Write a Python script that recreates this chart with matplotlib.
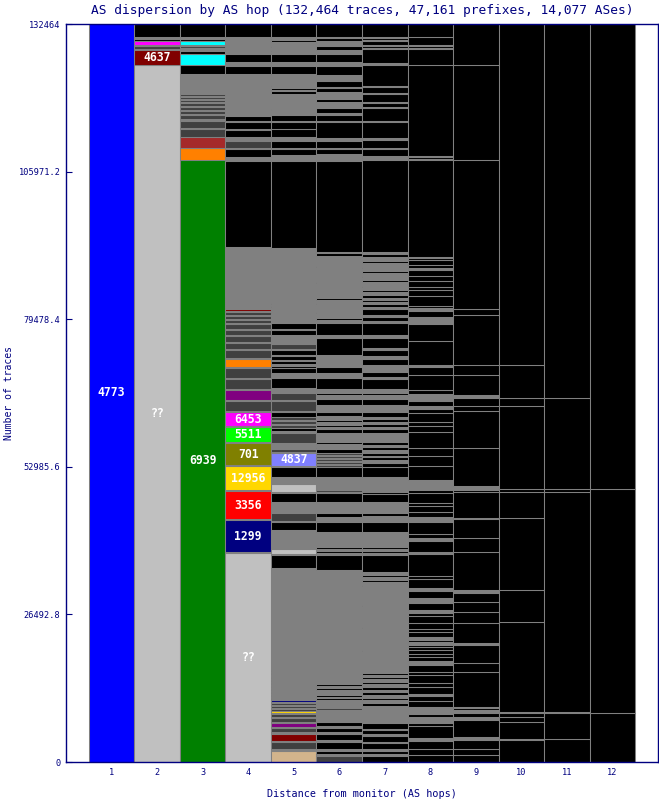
import matplotlib
matplotlib.use("Agg")
import matplotlib.pyplot as plt

# colour codes used in the hop columns
palette = {
    'K': '#000000', 'G': '#808080', 'D': '#404040', 'L': '#c0c0c0',
    'BL': '#0000ff', 'GR': '#008000', 'DR': '#800000', 'MA': '#ff00ff',
    'CY': '#00ffff', 'BR': '#a52a2a', 'OR': '#ff8000', 'PU': '#800080',
    'LI': '#00ff00', 'OL': '#808000', 'GO': '#ffd700', 'RE': '#ff0000',
    'NA': '#000080', 'PE': '#8080ff', 'TA': '#d2b48c',
}

total_traces = 132464
y_ticks = [0, 26492.8, 52985.6, 79478.4, 105971.2, 132464]
y_tick_labels = ['0', '26492.8', '52985.6', '79478.4', '105971.2', '132464']
hops = list(range(1, 13))

# each hop: (traces, colour, optional label), listed from the top down
hop1 = [(132464, 'BL', '4773')]

hop2 = [(2334, 'K'), (359, 'G'), (359, 'K'), (628, 'MA'), (269, 'G'), (538, 'D'),
        (179, 'G'), (2782, 'DR', '4637'), (125016, 'L', '??')]

hop3 = [(2334, 'K'), (359, 'G'), (359, 'K'), (628, 'CY'), (269, 'G'), (359, 'D'),
        (538, 'G'), (449, 'K'), (2064, 'CY'), (1615, 'K'), (3590, 'G'),
        (359, 'D'), (179, 'G'), (359, 'D'), (179, 'G'), (359, 'D'), (179, 'G'),
        (538, 'D'), (179, 'G'), (538, 'D'), (179, 'G'), (538, 'D'), (179, 'G'),
        (718, 'D'), (359, 'G'), (1256, 'D'), (179, 'G'), (1436, 'D'),
        (1974, 'BR'), (2154, 'OR'), (108059, 'GR', '6939')]

hop4 = [(2334, 'K'), (179, 'G'), (179, 'K'), (179, 'G'), (179, 'K'), (897, 'G'),
        (179, 'K'), (359, 'G'), (179, 'K'), (718, 'G'), (1436, 'K'), (718, 'G'),
        (1436, 'K'), (3590, 'G'), (179, 'K'), (2154, 'G'), (179, 'D'), (1436, 'G'),
        (897, 'K'), (179, 'G'), (1256, 'K'), (179, 'G'), (1256, 'K'), (718, 'G'),
        (1256, 'D'), (179, 'G'), (1436, 'K'), (179, 'L'), (538, 'G'), (15437, 'K'),
        (8975, 'G'), (179, 'D'), (179, 'G'), (179, 'D'), (179, 'G'), (179, 'D'),
        (179, 'G'), (179, 'D'), (179, 'G'), (179, 'D'), (179, 'G'), (179, 'D'),
        (179, 'G'), (359, 'DR'), (179, 'G'), (538, 'D'), (179, 'G'), (538, 'D'),
        (179, 'G'), (538, 'D'), (179, 'G'), (897, 'D'), (179, 'G'), (897, 'D'),
        (179, 'G'), (1077, 'D'), (179, 'G'), (1077, 'D'), (179, 'G'), (1436, 'D'),
        (179, 'G'), (1436, 'OR'), (179, 'G'), (1795, 'D'), (179, 'G'), (1795, 'D'),
        (179, 'G'), (1795, 'PU'), (179, 'G'), (1795, 'D'), (179, 'G'),
        (2513, 'MA', '6453'), (179, 'G'), (2692, 'LI', '5511'), (179, 'G'),
        (3949, 'OL', '701'), (179, 'G'), (4308, 'GO', '12956'), (179, 'G'),
        (5026, 'RE', '3356'), (179, 'G'), (5744, 'NA', '1299'), (179, 'G'),
        (37510, 'L', '??')]

hop5 = [(2334, 'K'), (179, 'G'), (179, 'K'), (179, 'G'), (359, 'K'), (718, 'G'),
        (179, 'K'), (538, 'G'), (179, 'K'), (538, 'G'), (1436, 'K'), (718, 'G'),
        (1436, 'K'), (1974, 'G'), (179, 'K'), (359, 'G'), (359, 'K'), (179, 'G'),
        (538, 'K'), (2692, 'G'), (179, 'D'), (897, 'G'), (1077, 'K'), (179, 'G'),
        (1256, 'K'), (1436, 'K'), (718, 'G'), (1256, 'K'), (179, 'G'), (1077, 'K'),
        (1077, 'G'), (15616, 'K'), (9872, 'G'), (179, 'K'), (359, 'G'), (179, 'K'),
        (897, 'G'), (179, 'K'), (1795, 'G'), (1077, 'K'), (179, 'G'), (897, 'K'),
        (1615, 'G'), (897, 'D'), (179, 'G'), (897, 'K'), (179, 'L'), (718, 'K'),
        (179, 'G'), (538, 'K'), (179, 'L'), (179, 'G'), (359, 'K'), (897, 'K'),
        (897, 'G'), (1795, 'K'), (897, 'G'), (1256, 'D'), (179, 'G'), (1795, 'D'),
        (179, 'G'), (897, 'K'), (538, 'D'), (179, 'L'), (538, 'D'), (179, 'G'),
        (538, 'D'), (538, 'K'), (179, 'L'), (179, 'G'), (1795, 'D'), (897, 'G'),
        (179, 'L'), (538, 'D'), (179, 'G'), (2334, 'PE', '4837'), (179, 'G'),
        (1795, 'K'), (1256, 'G'), (1436, 'L'), (179, 'G'), (1615, 'K'), (1615, 'G'),
        (179, 'L'), (179, 'G'), (1436, 'D'), (179, 'G'), (1436, 'K'), (3051, 'G'),
        (179, 'D'), (179, 'G'), (897, 'L'), (179, 'G'), (2334, 'K'), (18308, 'G'),
        (179, 'D'), (359, 'G'), (179, 'D'), (538, 'G'), (179, 'D'), (359, 'G'),
        (179, 'D'), (359, 'G'), (179, 'D'), (359, 'G'), (179, 'D'), (359, 'G'),
        (179, 'D'), (359, 'G'), (179, 'D'), (359, 'G'), (179, 'D'), (359, 'G'),
        (179, 'D'), (179, 'G'), (359, 'NA'), (179, 'G'), (359, 'D'), (179, 'G'),
        (359, 'D'), (179, 'G'), (359, 'D'), (359, 'GO'), (179, 'G'), (538, 'D'),
        (179, 'G'), (718, 'D'), (179, 'G'), (718, 'PU'), (179, 'G'), (718, 'D'),
        (359, 'G'), (1256, 'DR'), (179, 'G'), (1256, 'D'), (359, 'G'), (1974, 'TA')]

hop6 = [(2334, 'K'), (179, 'G'), (538, 'K'), (179, 'G'), (179, 'K'), (538, 'G'),
        (718, 'K'), (718, 'G'), (1436, 'K'), (718, 'G'), (1615, 'K'), (1077, 'G'),
        (1077, 'K'), (179, 'G'), (718, 'K'), (718, 'G'), (179, 'K'), (359, 'G'),
        (538, 'K'), (1077, 'G'), (897, 'K'), (359, 'G'), (1077, 'K'), (179, 'G'),
        (2872, 'K'), (179, 'G'), (179, 'K'), (179, 'G'), (1256, 'K'), (179, 'G'),
        (897, 'K'), (1256, 'G'), (16334, 'K'), (179, 'G'), (538, 'K'), (1795, 'G'),
        (179, 'K'), (2692, 'G'), (179, 'K'), (2692, 'G'), (359, 'K'), (538, 'G'),
        (179, 'K'), (1436, 'G'), (179, 'K'), (897, 'G'), (359, 'K'), (538, 'G'),
        (2154, 'K'), (538, 'G'), (3051, 'K'), (2154, 'G'), (1077, 'K'), (897, 'G'),
        (1974, 'K'), (718, 'G'), (359, 'K'), (718, 'G'), (1077, 'K'), (1256, 'G'),
        (718, 'K'), (718, 'G'), (359, 'K'), (538, 'G'), (359, 'K'), (359, 'G'),
        (718, 'K'), (1615, 'G'), (359, 'K'), (538, 'G'), (179, 'K'), (179, 'PE'),
        (718, 'K'), (359, 'D'), (179, 'G'), (359, 'D'), (179, 'G'), (359, 'D'),
        (179, 'G'), (359, 'D'), (179, 'G'), (359, 'D'), (1795, 'K'), (2333, 'G'),
        (359, 'D'), (179, 'G'), (1615, 'K'), (1974, 'G'), (718, 'K'), (897, 'G'),
        (1795, 'K'), (2692, 'G'), (359, 'K'), (359, 'G'), (359, 'K'), (359, 'G'),
        (2692, 'K'), (20462, 'G'), (359, 'K'), (359, 'G'), (359, 'K'), (897, 'G'),
        (359, 'K'), (179, 'G'), (359, 'K'), (1436, 'G'), (359, 'D'), (1974, 'G'),
        (179, 'L'), (718, 'K'), (359, 'G'), (718, 'K'), (359, 'G'), (1077, 'K'),
        (359, 'G'), (1256, 'K'), (359, 'G'), (538, 'K'), (359, 'G'), (1077, 'D')]

hop7 = [(2334, 'K'), (179, 'G'), (359, 'K'), (179, 'G'), (718, 'K'), (179, 'G'),
        (359, 'K'), (179, 'G'), (2513, 'K'), (359, 'G'), (3770, 'K'), (179, 'G'),
        (1077, 'K'), (179, 'G'), (1436, 'K'), (179, 'G'), (718, 'K'), (179, 'G'),
        (2334, 'K'), (179, 'G'), (2872, 'K'), (359, 'G'), (1436, 'K'), (179, 'G'),
        (1256, 'K'), (179, 'G'), (179, 'K'), (359, 'G'), (16514, 'K'), (359, 'G'),
        (538, 'K'), (718, 'G'), (359, 'K'), (718, 'G'), (179, 'K'), (538, 'G'),
        (359, 'K'), (538, 'G'), (179, 'K'), (538, 'G'), (359, 'K'), (718, 'G'),
        (179, 'K'), (538, 'G'), (359, 'K'), (538, 'G'), (538, 'K'), (359, 'G'),
        (359, 'K'), (359, 'G'), (538, 'K'), (359, 'G'), (1077, 'K'), (359, 'G'),
        (718, 'K'), (359, 'G'), (2154, 'K'), (538, 'G'), (1795, 'K'), (359, 'G'),
        (1077, 'K'), (538, 'G'), (1077, 'K'), (1256, 'G'), (897, 'K'), (359, 'G'),
        (1795, 'K'), (718, 'G'), (359, 'K'), (718, 'G'), (1077, 'K'), (1256, 'G'),
        (897, 'K'), (359, 'G'), (538, 'K'), (359, 'G'), (538, 'K'), (359, 'G'),
        (718, 'K'), (1615, 'G'), (538, 'K'), (359, 'G'), (538, 'K'), (538, 'G'),
        (538, 'K'), (179, 'G'), (538, 'K'), (538, 'G'), (718, 'K'), (1795, 'K'),
        (2692, 'G'), (359, 'K'), (1436, 'K'), (1974, 'G'), (538, 'K'), (1077, 'G'),
        (1795, 'K'), (2692, 'G'), (359, 'K'), (359, 'G'), (359, 'K'), (359, 'G'),
        (3051, 'K'), (538, 'G'), (359, 'K'), (538, 'G'), (359, 'K'), (538, 'G'),
        (179, 'K'), (3411, 'G'), (179, 'K'), (3770, 'G'), (179, 'K'), (3949, 'G'),
        (179, 'K'), (3949, 'G'), (359, 'K'), (359, 'G'), (359, 'K'), (538, 'G'),
        (359, 'K'), (538, 'G'), (538, 'K'), (359, 'G'), (538, 'K'), (538, 'G'),
        (359, 'K'), (538, 'G'), (538, 'K'), (2872, 'G'), (179, 'K'), (1077, 'K'),
        (179, 'G'), (718, 'K'), (359, 'G'), (1077, 'K'), (179, 'G'), (1077, 'K'),
        (359, 'G'), (538, 'K'), (359, 'G'), (1077, 'K')]

hop8 = [(2334, 'K'), (1436, 'K'), (179, 'G'), (359, 'K'), (179, 'G'), (2872, 'K'),
        (16334, 'K'), (179, 'G'), (359, 'K'), (179, 'G'), (17412, 'K'), (179, 'G'),
        (359, 'K'), (897, 'K'), (538, 'K'), (359, 'G'), (1077, 'K'), (897, 'K'),
        (1077, 'K'), (538, 'K'), (1077, 'K'), (1795, 'K'), (359, 'K'), (538, 'G'),
        (1077, 'K'), (359, 'G'), (179, 'K'), (718, 'G'), (3051, 'K'), (4308, 'K'),
        (359, 'G'), (1436, 'K'), (2692, 'K'), (718, 'K'), (1256, 'G'), (897, 'K'),
        (538, 'G'), (718, 'K'), (1615, 'K'), (718, 'K'), (1077, 'K'), (2872, 'K'),
        (1436, 'K'), (1795, 'K'), (2513, 'K'), (1795, 'G'), (538, 'K'), (1795, 'K'),
        (538, 'K'), (1077, 'K'), (897, 'K'), (897, 'G'), (2154, 'K'), (718, 'K'),
        (538, 'G'), (1974, 'K'), (359, 'G'), (3949, 'K'), (538, 'K'), (1615, 'K'),
        (538, 'G'), (1256, 'K'), (897, 'G'), (1256, 'K'), (538, 'G'), (538, 'K'),
        (1256, 'K'), (1077, 'K'), (538, 'K'), (897, 'K'), (538, 'G'), (359, 'K'),
        (538, 'G'), (359, 'K'), (538, 'K'), (718, 'K'), (538, 'K'), (718, 'K'),
        (718, 'G'), (1256, 'K'), (538, 'K'), (1436, 'K'), (718, 'K'), (1256, 'K'),
        (359, 'G'), (897, 'K'), (1077, 'K'), (1256, 'G'), (538, 'K'), (1077, 'G'),
        (538, 'K'), (2154, 'K'), (538, 'G'), (1436, 'K'), (1077, 'K'), (1256, 'K')]

hop9 = [(7359, 'K'), (17052, 'K'), (26744, 'K'), (1077, 'K'), (8975, 'K'),
        (1795, 'K'), (3590, 'K'), (538, 'G'), (1436, 'K'), (897, 'K'), (6641, 'K'),
        (6821, 'K'), (718, 'G'), (359, 'K'), (4667, 'K'), (179, 'G'), (3411, 'K'),
        (2513, 'K'), (6821, 'K'), (538, 'G'), (1615, 'K'), (1795, 'K'), (1974, 'K'),
        (3590, 'K'), (359, 'G'), (3231, 'K'), (1615, 'K'), (6282, 'K'), (179, 'G'),
        (359, 'K'), (538, 'G'), (718, 'K'), (538, 'G'), (3051, 'K'), (538, 'G'),
        (1615, 'K'), (1077, 'K'), (1256, 'K')]

hop10 = [(61209, 'K'), (5923, 'K'), (1436, 'K'), (14899, 'K'), (538, 'K'),
         (4667, 'K'), (12924, 'K'), (5744, 'K'), (16155, 'K'), (179, 'G'),
         (718, 'K'), (897, 'K'), (3051, 'K'), (179, 'G'), (3949, 'K')]

hop11 = [(67131, 'K'), (16334, 'K'), (538, 'K'), (39489, 'K'), (179, 'G'),
         (4667, 'K'), (4128, 'K')]

hop12 = [(83465, 'K'), (40206, 'K'), (8795, 'K')]

columns = [hop1, hop2, hop3, hop4, hop5, hop6, hop7, hop8, hop9, hop10, hop11, hop12]

navy = '#000080'
mono = 'DejaVu Sans Mono'

fig = plt.figure(figsize=(6.59, 8.0), dpi=100)
ax = fig.add_axes([66 / 659, 38 / 800, 592 / 659, 738 / 800])

for hop, segs in zip(hops, columns):
    bottom = 0
    for seg in reversed(segs):
        h, code = seg[0], seg[1]
        ax.bar(hop, h, bottom=bottom, width=1.0, color=palette[code],
               edgecolor='#808080', linewidth=0.75)
        if len(seg) > 2:
            ax.text(hop, bottom + h / 2, seg[2], color='white', ha='center',
                    va='center', fontsize=8.3, fontweight='bold', family=mono)
        bottom += h

ax.set_xlim(0, 13)
ax.set_ylim(0, total_traces)
ax.set_xticks(hops)
ax.set_xticklabels([str(h) for h in hops], family=mono, fontsize=6.2, color=navy)
ax.set_yticks(y_ticks)
ax.set_yticklabels(y_tick_labels, family=mono, fontsize=6.2, color=navy)
ax.tick_params(axis='x', length=0, pad=4)
ax.tick_params(axis='y', direction='in', length=4, width=0.8, color=navy, pad=4)
for s in ax.spines.values():
    s.set_color(navy)
    s.set_linewidth(1.0)

ax.set_title('AS dispersion by AS hop (132,464 traces, 47,161 prefixes, 14,077 ASes)',
             family=mono, fontsize=9.3, color=navy, pad=7)
ax.set_xlabel('Distance from monitor (AS hops)', family=mono, fontsize=7.3,
              color=navy, va='center')
ax.xaxis.set_label_coords(0.5, -0.043)
ax.set_ylabel('Number of traces', family=mono, fontsize=7.0, color=navy)
ax.yaxis.set_label_coords(-0.088, 0.5)

fig.savefig('out.png', dpi=100)
